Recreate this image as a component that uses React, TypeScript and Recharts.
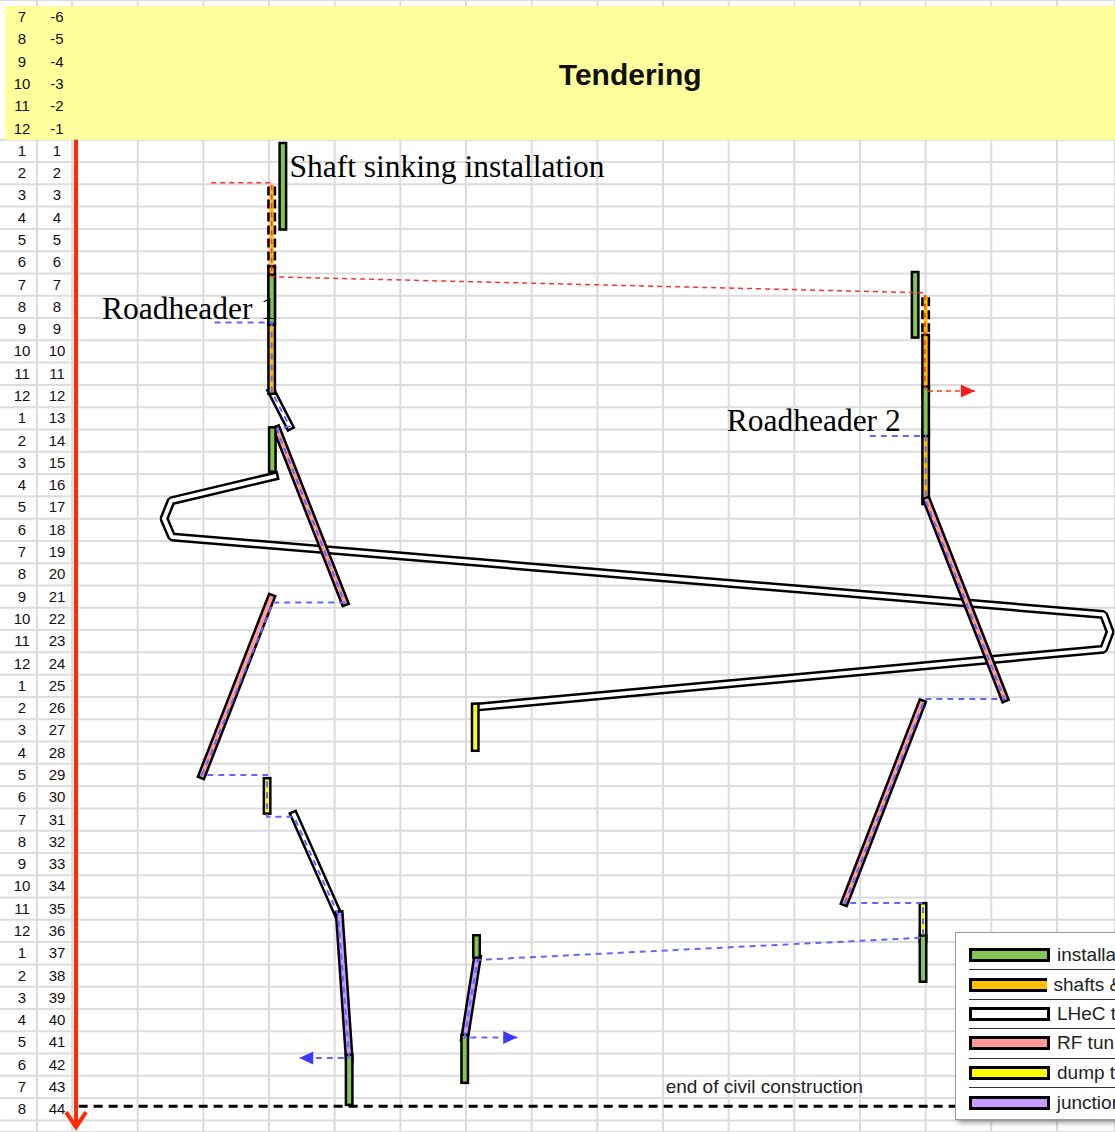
import React from "react";
import {
  ComposedChart,
  Line,
  Area,
  XAxis,
  YAxis,
  CartesianGrid,
  ReferenceDot,
  Legend,
} from "recharts";

type Pt = { x: number; t: number };

// row labels: calendar month and project month
const calendarMonths = [
  7, 8, 9, 10, 11, 12,
  1, 2, 3, 4, 5, 6, 7, 8, 9, 10, 11, 12,
  1, 2, 3, 4, 5, 6, 7, 8, 9, 10, 11, 12,
  1, 2, 3, 4, 5, 6, 7, 8, 9, 10, 11, 12,
  1, 2, 3, 4, 5, 6, 7, 8,
];
const projectMonths = [
  -6, -5, -4, -3, -2, -1,
  1, 2, 3, 4, 5, 6, 7, 8, 9, 10, 11, 12,
  13, 14, 15, 16, 17, 18, 19, 20, 21, 22, 23, 24,
  25, 26, 27, 28, 29, 30, 31, 32, 33, 34, 35, 36,
  37, 38, 39, 40, 41, 42, 43, 44,
];
const rowCenters = projectMonths.map((p) => (p < 0 ? p + 0.5 : p - 0.5));

// tendering period band (months -6 .. 0)
const tenderingBand = [
  { x: -1.021, band: [-6, 0] },
  { x: 15.884, band: [-6, 0] },
];

// x = position along the site (grid columns), t = month
const installation: Pt[][] = [
  [{ x: 3.21, t: 0.29 }, { x: 3.21, t: 3.88 }],
  [{ x: 3.04, t: 6.2 }, { x: 3.04, t: 8.15 }],
  [{ x: 3.05, t: 13.05 }, { x: 3.05, t: 14.75 }],
  [{ x: 4.22, t: 41.2 }, { x: 4.22, t: 43.16 }],
  [{ x: 6.16, t: 35.84 }, { x: 6.16, t: 36.55 }],
  [{ x: 5.98, t: 40.3 }, { x: 5.98, t: 42.17 }],
  [{ x: 12.84, t: 6.08 }, { x: 12.84, t: 8.73 }],
  [{ x: 13.0, t: 11.22 }, { x: 13.0, t: 13.15 }],
  [{ x: 12.96, t: 35.85 }, { x: 12.96, t: 37.63 }],
];
const shaftsSinking: Pt[][] = [
  [{ x: 3.04, t: 2.1 }, { x: 3.04, t: 5.83 }],
  [{ x: 13.0, t: 7.07 }, { x: 13.0, t: 8.9 }],
];
const shafts: Pt[][] = [
  [{ x: 3.04, t: 5.83 }, { x: 3.04, t: 11.25 }],
  [{ x: 13.0, t: 8.9 }, { x: 13.0, t: 11.22 }],
  [{ x: 13.0, t: 13.15 }, { x: 13.0, t: 16.2 }],
];
const lhecTunnel: Pt[][] = [
  [{ x: 3.04, t: 11.3 }, { x: 3.31, t: 12.85 }],
  [
    { x: 3.08, t: 15.1 },
    { x: 1.51, t: 16.2 },
    { x: 1.4, t: 17.0 },
    { x: 1.52, t: 17.82 },
    { x: 15.71, t: 21.3 },
    { x: 15.81, t: 22.08 },
    { x: 15.71, t: 22.86 },
    { x: 6.17, t: 25.45 },
  ],
  [{ x: 3.38, t: 30.3 }, { x: 4.05, t: 34.75 }],
];
const rfTunnel: Pt[][] = [
  [{ x: 3.12, t: 13.0 }, { x: 4.15, t: 20.74 }],
  [{ x: 3.03, t: 20.56 }, { x: 1.98, t: 28.5 }],
  [{ x: 13.02, t: 16.2 }, { x: 14.2, t: 25.05 }],
  [{ x: 12.94, t: 25.3 }, { x: 11.77, t: 34.2 }],
];
const dumpTunnel: Pt[][] = [
  [{ x: 6.14, t: 25.45 }, { x: 6.14, t: 27.27 }],
  [{ x: 2.97, t: 28.79 }, { x: 2.97, t: 30.09 }],
  [{ x: 12.96, t: 34.4 }, { x: 12.96, t: 35.85 }],
];
const junctionCaverns: Pt[][] = [
  [{ x: 4.07, t: 34.78 }, { x: 4.22, t: 41.2 }],
  [{ x: 6.17, t: 36.75 }, { x: 5.98, t: 40.3 }],
];

// machine paths
const sinkingPath: Pt[] = [
  { x: 2.12, t: 1.93 }, { x: 3.04, t: 1.93 }, { x: 3.04, t: 6.15 },
  { x: 12.99, t: 6.87 }, { x: 12.99, t: 11.27 }, { x: 13.75, t: 11.27 },
];
const roadheader1Path: Pt[] = [
  { x: 2.17, t: 8.2 }, { x: 3.04, t: 8.2 }, { x: 3.04, t: 11.3 },
  { x: 3.31, t: 12.85 }, { x: 3.12, t: 13.0 }, { x: 4.15, t: 20.76 },
  { x: 3.06, t: 20.76 }, { x: 1.98, t: 28.5 }, { x: 2.97, t: 28.5 },
  { x: 2.97, t: 30.38 }, { x: 3.38, t: 30.38 }, { x: 4.05, t: 34.75 },
  { x: 4.22, t: 41.2 }, { x: 3.46, t: 41.2 },
];
const roadheader2Path: Pt[] = [
  { x: 12.15, t: 13.29 }, { x: 13.0, t: 13.29 }, { x: 13.0, t: 16.2 },
  { x: 14.2, t: 25.09 }, { x: 12.99, t: 25.09 }, { x: 11.77, t: 34.25 },
  { x: 12.96, t: 34.25 }, { x: 12.96, t: 35.8 }, { x: 6.17, t: 36.8 },
  { x: 5.98, t: 40.28 }, { x: 6.78, t: 40.28 },
];
const timeAxis: Pt[] = [{ x: 0.06, t: 0 }, { x: 0.06, t: 44.3 }];
const civilEnd: Pt[] = [{ x: 0.1, t: 43.36 }, { x: 15.88, t: 43.36 }];

const annotations = [
  { text: "Shaft sinking installation", x: 3.31, t: 1.66 },
  { text: "Roadheader 1", x: 0.457, t: 8.03 },
  { text: "Roadheader 2", x: 9.97, t: 13.06 },
];
const title = { text: "Tendering", x: 8.5, t: -2.47 };
const civilNote = { text: "end of civil construction", x: 9.04, t: 42.77 };

const legendItems = [
  { name: "installation", color: "#84c450" },
  { name: "shafts & caverns", color: "#ffc000" },
  { name: "LHeC tunnel", color: "#ffffff" },
  { name: "RF tunnel", color: "#ff9a9a" },
  { name: "dump tunnel", color: "#ffff00" },
  { name: "junction caverns", color: "#c79bff" },
];

const X_MIN = -1.113;
const X_MAX = 15.884;
const T_MIN = -6.27;
const T_MAX = 44.52;
const gridColumns = [-0.5335, ...Array.from({ length: 16 }, (_, i) => i)];
// row lines only below the tendering band
const gridMonths = Array.from({ length: 45 }, (_, i) => i);
const BAND_YELLOW = "#ffff9c";

const SANS = "'Liberation Sans', Arial, sans-serif";
const SERIF = "'Liberation Serif', 'Times New Roman', serif";

const common = {
  dataKey: "t",
  yAxisId: "grid",
  type: "linear" as const,
  dot: false,
  activeDot: false,
  isAnimationActive: false,
  legendType: "none" as const,
};

function barLines(name: string, segs: Pt[][], fill: string, outlineDash?: string) {
  return [
    ...segs.map((d, i) => (
      <Line
        key={`${name}-o${i}`}
        {...common}
        data={d}
        stroke="#000"
        strokeWidth={9}
        strokeLinecap={outlineDash ? "butt" : "square"}
        strokeLinejoin="bevel"
        strokeDasharray={outlineDash}
      />
    )),
    ...segs.map((d, i) => (
      <Line
        key={`${name}-f${i}`}
        {...common}
        data={d}
        stroke={fill}
        strokeWidth={4}
        strokeLinecap="square"
        strokeLinejoin="bevel"
      />
    )),
  ];
}

const arrowHead = (pts: Pt[], color: string) => (props: any) => {
  const { cx, cy, index } = props;
  if (index !== pts.length - 1 || cx == null) return <g key={`a${index}`} />;
  const dir = pts[index].x >= pts[index - 1].x ? 1 : -1;
  return (
    <polygon
      key={`a${index}`}
      points={`${cx},${cy} ${cx - dir * 14},${cy - 6.5} ${cx - dir * 14},${cy + 6.5}`}
      fill={color}
    />
  );
};

const axisArrow = (props: any) => {
  const { cx, cy, index } = props;
  if (index !== timeAxis.length - 1 || cx == null) return <g key={`v${index}`} />;
  return (
    <polyline
      key={`v${index}`}
      points={`${cx - 10},${cy - 15} ${cx},${cy} ${cx + 10},${cy - 15}`}
      fill="none"
      stroke="#ff2a00"
      strokeWidth={4}
    />
  );
};

// grid axes must keep their ticks, just draw nothing for them
const EmptyTick = () => <g />;

const RowTick = (props: any) => {
  const { y, payload } = props;
  const i = rowCenters.indexOf(payload.value);
  if (i < 0) return <g />;
  return (
    <g fontFamily={SANS} fontSize={15} fill="#111">
      <text x={22} y={y} dy={5} textAnchor="middle">{calendarMonths[i]}</text>
      <text x={57} y={y} dy={5} textAnchor="middle">{projectMonths[i]}</text>
    </g>
  );
};

const renderLegend = () => (
  <div
    style={{
      background: "#fff",
      border: "1px solid #9a9a9a",
      boxShadow: "3px 3px 5px rgba(0,0,0,0.35)",
      padding: "8px 0 0 13px",
      width: 240,
      height: 188,
      boxSizing: "border-box",
      fontFamily: SANS,
      fontSize: 19,
      color: "#222",
    }}
  >
    {legendItems.map((it, i) => (
      <div
        key={it.name}
        style={{
          display: "flex",
          alignItems: "center",
          height: 29.4,
          boxSizing: "border-box",
          borderBottom: i < legendItems.length - 1 ? "1.5px solid #333" : "none",
          whiteSpace: "nowrap",
        }}
      >
        <svg width={81} height={14} style={{ display: "block" }}>
          <rect x={1.5} y={1.5} width={78} height={11} fill={it.color} stroke="#000" strokeWidth={3} />
        </svg>
        <span style={{ marginLeft: 7 }}>{it.name}</span>
      </div>
    ))}
  </div>
);

export default function App() {
  return (
    <div
      style={{
        position: "absolute",
        left: 0,
        top: 0,
        width: 1115,
        height: 1132,
        overflow: "hidden",
        background: "#fff",
      }}
    >
      <ComposedChart width={1115} height={1132} margin={{ top: 0, right: 0, bottom: 0, left: -1 }}>
        <CartesianGrid yAxisId="grid" stroke="#dcdcdc" strokeWidth={2} />
        <Area
          data={tenderingBand}
          dataKey="band"
          yAxisId="grid"
          type="linear"
          stroke="none"
          fill={BAND_YELLOW}
          fillOpacity={1}
          dot={false}
          activeDot={false}
          isAnimationActive={false}
          legendType="none"
        />

        {barLines("lhec", lhecTunnel, "#ffffff")}
        {barLines("sink", shaftsSinking, "#ffc000", "9 4")}
        {barLines("shaft", shafts, "#ffc000")}
        {barLines("rf", rfTunnel, "#ff9a9a")}
        {barLines("dump", dumpTunnel, "#ffff00")}
        {barLines("junction", junctionCaverns, "#c79bff")}
        {barLines("install", installation, "#84c450")}

        <Line {...common} data={roadheader1Path} stroke="#6464ff" strokeWidth={2} strokeDasharray="6 5" dot={arrowHead(roadheader1Path, "#3a3aff")} />
        <Line {...common} data={roadheader2Path} stroke="#6464ff" strokeWidth={2} strokeDasharray="6 5" dot={arrowHead(roadheader2Path, "#3a3aff")} />
        <Line {...common} data={sinkingPath} stroke="#ff3030" strokeWidth={1.5} strokeDasharray="5 4" dot={arrowHead(sinkingPath, "#ff1a1a")} />
        <Line {...common} data={civilEnd} stroke="#000" strokeWidth={3} strokeDasharray="9 6" />
        <Line {...common} data={timeAxis} stroke="#ff2a00" strokeWidth={4} dot={axisArrow} />

        {annotations.map((a) => (
          <ReferenceDot
            key={a.text}
            yAxisId="grid"
            x={a.x}
            y={a.t}
            r={0}
            shape={(p: any) => (
              <text x={p.cx} y={p.cy} fontFamily={SERIF} fontSize={31.5} fill="#000">
                {a.text}
              </text>
            )}
          />
        ))}
        <ReferenceDot
          yAxisId="grid"
          x={title.x}
          y={title.t}
          r={0}
          shape={(p: any) => (
            <text x={p.cx} y={p.cy} textAnchor="middle" fontFamily={SANS} fontWeight="bold" fontSize={30} fill="#111">
              {title.text}
            </text>
          )}
        />
        <ReferenceDot
          yAxisId="grid"
          x={civilNote.x}
          y={civilNote.t}
          r={0}
          shape={(p: any) => (
            <text x={p.cx} y={p.cy} fontFamily={SANS} fontSize={19} fill="#222">
              {civilNote.text}
            </text>
          )}
        />

        <XAxis
          type="number"
          dataKey="x"
          domain={[X_MIN, X_MAX]}
          allowDataOverflow
          ticks={gridColumns}
          interval={0}
          tick={EmptyTick}
          axisLine={false}
          tickLine={false}
          height={0}
        />
        <YAxis
          yAxisId="grid"
          type="number"
          domain={[T_MIN, T_MAX]}
          reversed
          allowDataOverflow
          ticks={gridMonths}
          interval={0}
          tick={EmptyTick}
          axisLine={false}
          tickLine={false}
          width={0}
        />
        <YAxis
          yAxisId="labels"
          type="number"
          domain={[T_MIN, T_MAX]}
          reversed
          allowDataOverflow
          ticks={rowCenters}
          interval={0}
          tick={<RowTick />}
          axisLine={false}
          tickLine={false}
          mirror
          width={1}
        />
        <Legend
          layout="vertical"
          align="center"
          verticalAlign="middle"
          content={renderLegend}
          wrapperStyle={{ left: 955, top: 932, width: 240, height: 188, bottom: "auto" }}
        />
      </ComposedChart>
    </div>
  );
}
